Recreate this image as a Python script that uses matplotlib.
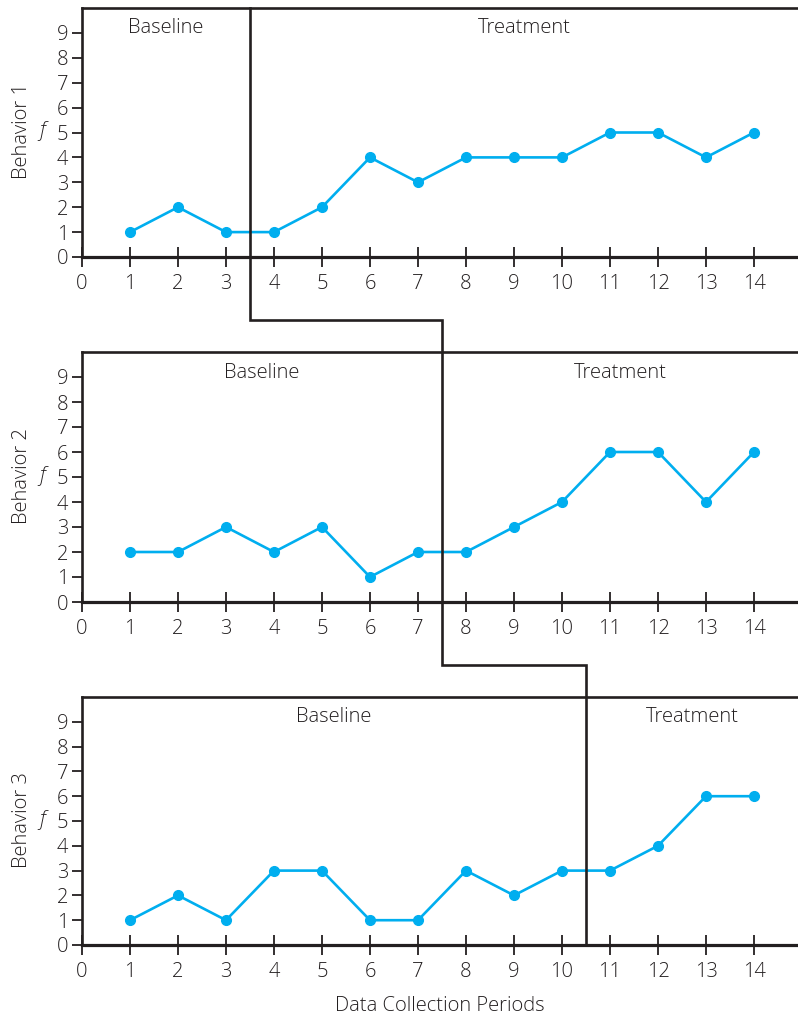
import matplotlib
matplotlib.use("Agg")
import matplotlib.pyplot as plt
from matplotlib.lines import Line2D

plt.rcParams['font.family'] = ['Open Sans', 'DejaVu Sans']
plt.rcParams['font.weight'] = 'light'
plt.rcParams['axes.labelweight'] = 'light'

periods = list(range(1, 15))
behavior1 = [1, 2, 1, 1, 2, 4, 3, 4, 4, 4, 5, 5, 4, 5]
behavior2 = [2, 2, 3, 2, 3, 1, 2, 2, 3, 4, 6, 6, 4, 6]
behavior3 = [1, 2, 1, 3, 3, 1, 1, 3, 2, 3, 3, 4, 6, 6]
series = [behavior1, behavior2, behavior3]
ylabels = ["Behavior 1", "Behavior 2", "Behavior 3"]
phase_changes = [3.5, 7.5, 10.5]
xticks = list(range(0, 15))
yticks = list(range(0, 10))
xlabel = "Data Collection Periods"

W, H = 798, 1018
fig = plt.figure(figsize=(W / 100, H / 100), dpi=100)

DARK = '#231f20'
CYAN = '#00aeef'
XMAX = (798 - 82) / 48
YMAX = 10
FS = 14.5

panel_px = [(8, 257), (352, 602), (697, 945)]
axes = []
for i, (top, bot) in enumerate(panel_px):
    ax = fig.add_axes([82 / W, (H - bot) / H, (W - 82) / W, (bot - top) / H])
    ax.set_xlim(0, XMAX)
    ax.set_ylim(0, YMAX)
    ax.spines['right'].set_visible(False)
    for s in ['left', 'top']:
        ax.spines[s].set_linewidth(1.9)
        ax.spines[s].set_color(DARK)
    ax.spines['bottom'].set_linewidth(2.3)
    ax.spines['bottom'].set_color(DARK)
    ax.set_xticks(xticks)
    ax.set_yticks(yticks)
    ax.tick_params(axis='x', direction='inout', length=14, width=1.3, color=DARK,
                   labelsize=FS, labelcolor=DARK, pad=5)
    ax.tick_params(axis='y', direction='out', length=7, width=1.3, color=DARK,
                   labelsize=FS, labelcolor=DARK, pad=3)
    ax.plot(periods, series[i], color=CYAN, lw=1.9, marker='o', ms=7,
            clip_on=False, zorder=3)
    pc = phase_changes[i]
    ax.text(pc / 2, 9.18, "Baseline", ha='center', va='center', fontsize=FS,
            color=DARK, fontweight='light')
    ax.text((pc + XMAX) / 2, 9.18, "Treatment", ha='center', va='center', fontsize=FS,
            color=DARK, fontweight='light')
    ax.text(-0.084, 0.505, ylabels[i], transform=ax.transAxes, rotation=90,
            ha='center', va='center', fontsize=FS, color=DARK, fontweight='light')
    ax.text(-0.83, 5.05, "f", ha='center', va='center', fontsize=FS,
            style='italic', color=DARK, fontweight='light')
    axes.append(ax)

axes[2].set_xlabel(xlabel, fontsize=FS, color=DARK, labelpad=10, fontweight='light')

# phase change connecting line
inv = fig.transFigure.inverted()
def fp(ax, x, y):
    return inv.transform(ax.transData.transform((x, y)))

drop = -2.52
pts = [
    fp(axes[0], phase_changes[0], YMAX),
    fp(axes[0], phase_changes[0], drop),
    fp(axes[0], phase_changes[1], drop),
    fp(axes[1], phase_changes[1], drop),
    fp(axes[1], phase_changes[2], drop),
    fp(axes[2], phase_changes[2], 0),
]
xs = [p[0] for p in pts]
ys = [p[1] for p in pts]
fig.add_artist(Line2D(xs, ys, transform=fig.transFigure, color=DARK, lw=1.9,
                      solid_joinstyle='miter'))

fig.savefig("out.png", dpi=100)
